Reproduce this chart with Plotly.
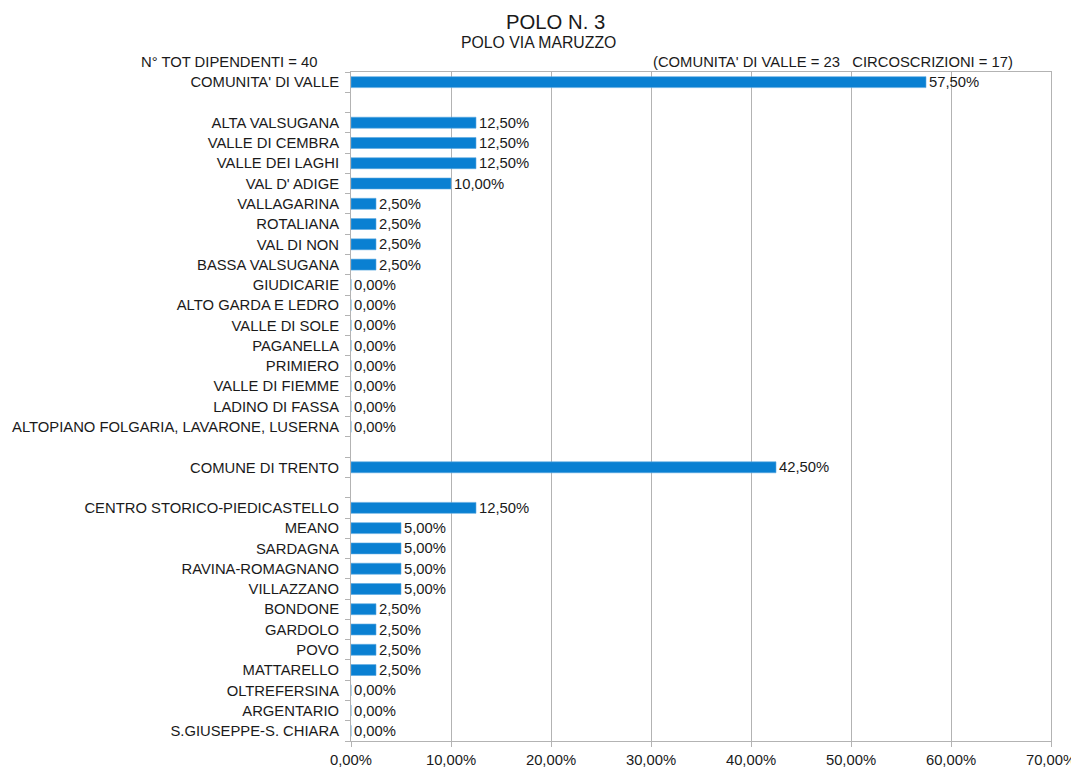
import plotly.graph_objects as go

categories = [
    "COMUNITA' DI VALLE", "",
    "ALTA VALSUGANA", "VALLE DI CEMBRA", "VALLE DEI LAGHI", "VAL D' ADIGE",
    "VALLAGARINA", "ROTALIANA", "VAL DI NON", "BASSA VALSUGANA",
    "GIUDICARIE", "ALTO GARDA E LEDRO", "VALLE DI SOLE", "PAGANELLA",
    "PRIMIERO", "VALLE DI FIEMME", "LADINO DI FASSA",
    "ALTOPIANO FOLGARIA, LAVARONE, LUSERNA", "",
    "COMUNE DI TRENTO", "",
    "CENTRO STORICO-PIEDICASTELLO", "MEANO", "SARDAGNA", "RAVINA-ROMAGNANO",
    "VILLAZZANO", "BONDONE", "GARDOLO", "POVO", "MATTARELLO",
    "OLTREFERSINA", "ARGENTARIO", "S.GIUSEPPE-S. CHIARA",
]
values = [
    0.575, None,
    0.125, 0.125, 0.125, 0.10,
    0.025, 0.025, 0.025, 0.025,
    0.0, 0.0, 0.0, 0.0,
    0.0, 0.0, 0.0,
    0.0, None,
    0.425, None,
    0.125, 0.05, 0.05, 0.05,
    0.05, 0.025, 0.025, 0.025, 0.025,
    0.0, 0.0, 0.0,
]
x_ticks = [0.0, 0.1, 0.2, 0.3, 0.4, 0.5, 0.6, 0.7]

title = "POLO N. 3"
subtitle = "POLO VIA MARUZZO"
note_left = "N° TOT DIPENDENTI = 40"
note_right = "(COMUNITA' DI VALLE = 23   CIRCOSCRIZIONI = 17)"

positions = list(range(len(categories)))
labels = ["" if v is None else f"{v*100:.2f}%".replace(".", ",") for v in values]

FONT = "Liberation Sans, Arial, sans-serif"
GRID = "#b3b3b3"
TXT = "#1a1a1a"
FS = 14.8

# page body adds an 8px offset; work in reference-pixel coordinates
OFF = 8
W, H = 1079 - OFF, 769 - OFF
L = 351 - OFF
T = 72 - OFF
R = W - (1051 - OFF)
B = H - (741 - OFF)
PW, PH = W - L - R, H - T - B

def px(x):
    return (x - OFF - L) / PW

def py(y):
    return (H - B - (y - OFF)) / PH

fig = go.Figure(go.Bar(
    y=positions, x=values, orientation="h",
    marker=dict(color="#0a80d2", line=dict(width=0.6, color="#5aa8e0")),
    width=0.54,
    text=labels, textposition="outside", cliponaxis=False,
    constraintext="none",
    textfont=dict(family=FONT, size=FS, color=TXT),
    hoverinfo="skip",
))

fig.update_layout(
    width=W, height=H,
    margin=dict(l=L, r=R, t=T, b=B, autoexpand=False),
    paper_bgcolor="white", plot_bgcolor="white",
    font=dict(family=FONT, size=FS, color=TXT),
    showlegend=False,
    separators=",.",
)
fig.add_annotation(text=title, xref="paper", yref="paper", x=px(555), y=py(21.5),
                   xanchor="center", yanchor="middle", showarrow=False,
                   font=dict(size=20.3, color=TXT, family=FONT))
fig.add_annotation(text=subtitle, xref="paper", yref="paper", x=px(538), y=py(43),
                   xanchor="center", yanchor="middle", showarrow=False,
                   font=dict(size=15.8, color=TXT, family=FONT))
fig.add_annotation(text=note_left, xref="paper", yref="paper", x=px(320), y=py(62),
                   xanchor="right", yanchor="middle", showarrow=False,
                   font=dict(size=FS, color=TXT, family=FONT))
fig.add_annotation(text=note_right, xref="paper", yref="paper", x=px(1015), y=py(62),
                   xanchor="right", yanchor="middle", showarrow=False,
                   font=dict(size=FS, color=TXT, family=FONT))

fig.update_xaxes(
    range=[0, 0.7], tickvals=x_ticks, tickformat=".2%",
    showgrid=True, gridcolor=GRID, gridwidth=1,
    showline=True, linecolor=GRID, linewidth=1, mirror=True,
    ticks="outside", ticklen=5, tickcolor=GRID,
    zeroline=False, tickfont=dict(size=FS, color=TXT),
    automargin=False,
)
fig.update_yaxes(
    tickmode="array", tickvals=positions, ticktext=categories,
    range=[len(categories) - 0.5, -0.5],
    showgrid=False,
    showline=True, linecolor=GRID, linewidth=1, mirror=True,
    ticks="", zeroline=False, tickfont=dict(size=FS, color=TXT),
    ticklabelstandoff=8,
    automargin=False,
)
fig.update_yaxes(minor=dict(tickvals=[p - 0.5 for p in positions] + [len(categories) - 0.5],
                            ticks="outside", ticklen=5, tickcolor=GRID, showgrid=False))

fig.write_html("out.html")
